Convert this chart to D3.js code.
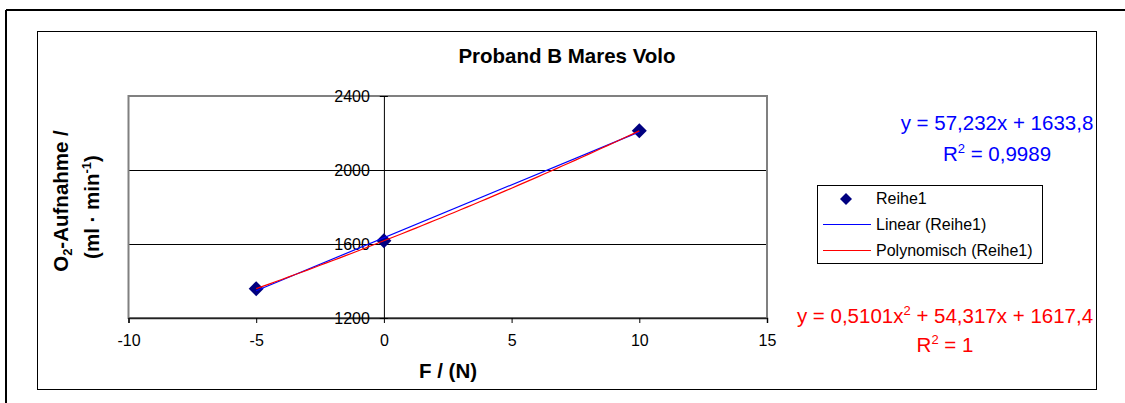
<!DOCTYPE html>
<html><head><meta charset="utf-8">
<script src="https://cdn.jsdelivr.net/npm/d3@7"></script>
<style>
html,body{margin:0;padding:0;background:#fff;}
svg{display:block;font-family:"Liberation Sans",Arial,sans-serif;}
</style></head>
<body><svg id="chart" width="1125" height="403"></svg>
<script>
// ---- data ----
const forceN = [-5, 0, 10];
const o2Uptake = [1358.6, 1617.4, 2211.6];
const xTicks = [-10, -5, 0, 5, 10, 15];
const yTicks = [1200, 1600, 2000, 2400];
const gridValues = [1600, 2000];
const linearCoef = [1633.8, 57.232];          // intercept, slope
const polyCoef = [1617.4, 54.317, 0.5101];    // c0, c1, c2
const title = "Proband B Mares Volo";
const legendLabels = ["Reihe1", "Linear (Reihe1)", "Polynomisch (Reihe1)"];

const svg = d3.select("#chart");
const FONT = '"Liberation Sans",Arial,sans-serif';

// frames
svg.append("line").attr("x1",6).attr("y1",10).attr("x2",1125).attr("y2",10).attr("stroke","#000").attr("stroke-width",2);
svg.append("line").attr("x1",6).attr("y1",10).attr("x2",6).attr("y2",403).attr("stroke","#000").attr("stroke-width",2);
svg.append("rect").attr("x",37.5).attr("y",31.5).attr("width",1059).attr("height",358).attr("fill","#fff").attr("stroke","#000").attr("stroke-width",1);

const x = d3.scaleLinear().domain([-10,15]).range([128.5,767]);
const y = d3.scaleLinear().domain([1200,2400]).range([318,96]);

// title
svg.append("text").attr("x",567).attr("y",63).attr("text-anchor","middle")
  .attr("font-size",20.5).attr("font-weight","bold").text(title);

// gridlines
svg.selectAll(".grid").data(gridValues).join("line")
  .attr("x1",x(-10)).attr("x2",x(15)).attr("y1",d=>Math.round(y(d))+0.5).attr("y2",d=>Math.round(y(d))+0.5)
  .attr("stroke","#000").attr("stroke-width",1);

// plot border
svg.append("rect").attr("x",x(-10)).attr("y",y(2400)).attr("width",x(15)-x(-10)).attr("height",y(1200)-y(2400))
  .attr("fill","none").attr("stroke","#808080").attr("stroke-width",2);

// x axis
const xAxis = svg.append("g").attr("transform",`translate(0,${y(1200)})`)
  .call(d3.axisBottom(x).tickValues(xTicks).tickSize(5).tickPadding(12).tickFormat(d3.format("d")));
xAxis.select(".domain").attr("stroke","#222").attr("stroke-width",1.5);
xAxis.selectAll(".tick line").attr("stroke","#000");
xAxis.selectAll(".tick text").attr("font-size",16).attr("font-family",FONT).attr("fill","#000");
xAxis.selectAll(".tick text").text(d=> d<0 ? "-"+Math.abs(d) : d);

// y axis at x=0
const yAxis = svg.append("g").attr("transform",`translate(${x(0)},0)`)
  .call(d3.axisLeft(y).tickValues(yTicks).tickSize(4).tickPadding(10).tickFormat(d3.format("d")));
yAxis.select(".domain").attr("stroke","#000").attr("stroke-width",1);
yAxis.selectAll(".tick line").attr("x1",-4).attr("x2",4).attr("stroke","#000");
yAxis.selectAll(".tick text").attr("font-size",16).attr("font-family",FONT).attr("fill","#000");

// trendlines
const xr = [d3.min(forceN), d3.max(forceN)];
const linPts = xr.map(v=>[v, linearCoef[0]+linearCoef[1]*v]);
const polyPts = d3.range(xr[0], xr[1]+0.001, 0.25).map(v=>[v, polyCoef[0]+polyCoef[1]*v+polyCoef[2]*v*v]);
const line = d3.line().x(d=>x(d[0])).y(d=>y(d[1]));

// markers
svg.selectAll(".pt").data(forceN.map((f,i)=>[f,o2Uptake[i]])).join("path")
  .attr("d",d3.symbol().type(d3.symbolSquare).size(112))
  .attr("transform",d=>`translate(${x(d[0])},${y(d[1])}) rotate(45)`)
  .attr("fill","#000080");
svg.append("path").attr("d",line(linPts)).attr("fill","none").attr("stroke","#0000ff").attr("stroke-width",1.2);
svg.append("path").attr("d",line(polyPts)).attr("fill","none").attr("stroke","#ff0000").attr("stroke-width",1.2);

// axis titles
svg.append("text").attr("x",448).attr("y",378).attr("text-anchor","middle")
  .attr("font-size",20.5).attr("font-weight","bold").text("F / (N)");
const yt1 = svg.append("text").attr("transform","translate(68,201) rotate(-90)").attr("text-anchor","middle")
  .attr("font-size",20.5).attr("font-weight","bold");
yt1.append("tspan").text("O");
yt1.append("tspan").attr("font-size",13).attr("dy",4).text("2");
yt1.append("tspan").attr("dy",-4).text("-Aufnahme /");
const yt2 = svg.append("text").attr("transform","translate(99,207) rotate(-90)").attr("text-anchor","middle")
  .attr("font-size",20.5).attr("font-weight","bold");
yt2.append("tspan").text("(ml · min");
yt2.append("tspan").attr("font-size",13).attr("dy",-8).text("-1");
yt2.append("tspan").attr("dy",8).text(")");

// equations
function eq(cx, by, color, parts){
  const t = svg.append("text").attr("x",cx).attr("y",by).attr("text-anchor","middle").attr("font-size",20.5).attr("fill",color);
  parts.forEach(p=>{
    const s = t.append("tspan").text(p.t);
    if(p.sup){ s.attr("font-size",13).attr("dy",-8); }
    if(p.after){ s.attr("dy",8); }
  });
}
eq(997,130,"#0000ff",[{t:"y = 57,232x + 1633,8"}]);
eq(997,161,"#0000ff",[{t:"R"},{t:"2",sup:true},{t:" = 0,9989",after:true}]);
eq(945,322.5,"#ff0000",[{t:"y = 0,5101x"},{t:"2",sup:true},{t:" + 54,317x + 1617,4",after:true}]);
eq(945,352,"#ff0000",[{t:"R"},{t:"2",sup:true},{t:" = 1",after:true}]);

// legend
const lg = svg.append("g");
lg.append("rect").attr("x",817.5).attr("y",185.5).attr("width",225).attr("height",78).attr("fill","#fff").attr("stroke","#000").attr("stroke-width",1);
lg.append("path").attr("d",d3.symbol().type(d3.symbolSquare).size(72)).attr("transform","translate(846,199) rotate(45)").attr("fill","#000080");
lg.append("line").attr("x1",823).attr("x2",871).attr("y1",224.5).attr("y2",224.5).attr("stroke","#0000ff").attr("stroke-width",1);
lg.append("line").attr("x1",823).attr("x2",871).attr("y1",250.5).attr("y2",250.5).attr("stroke","#ff0000").attr("stroke-width",1);
lg.selectAll(".lt").data(legendLabels).join("text").attr("x",876).attr("y",(d,i)=>204+i*26)
  .attr("font-size",16).attr("fill","#000").text(d=>d);
</script></body></html>
